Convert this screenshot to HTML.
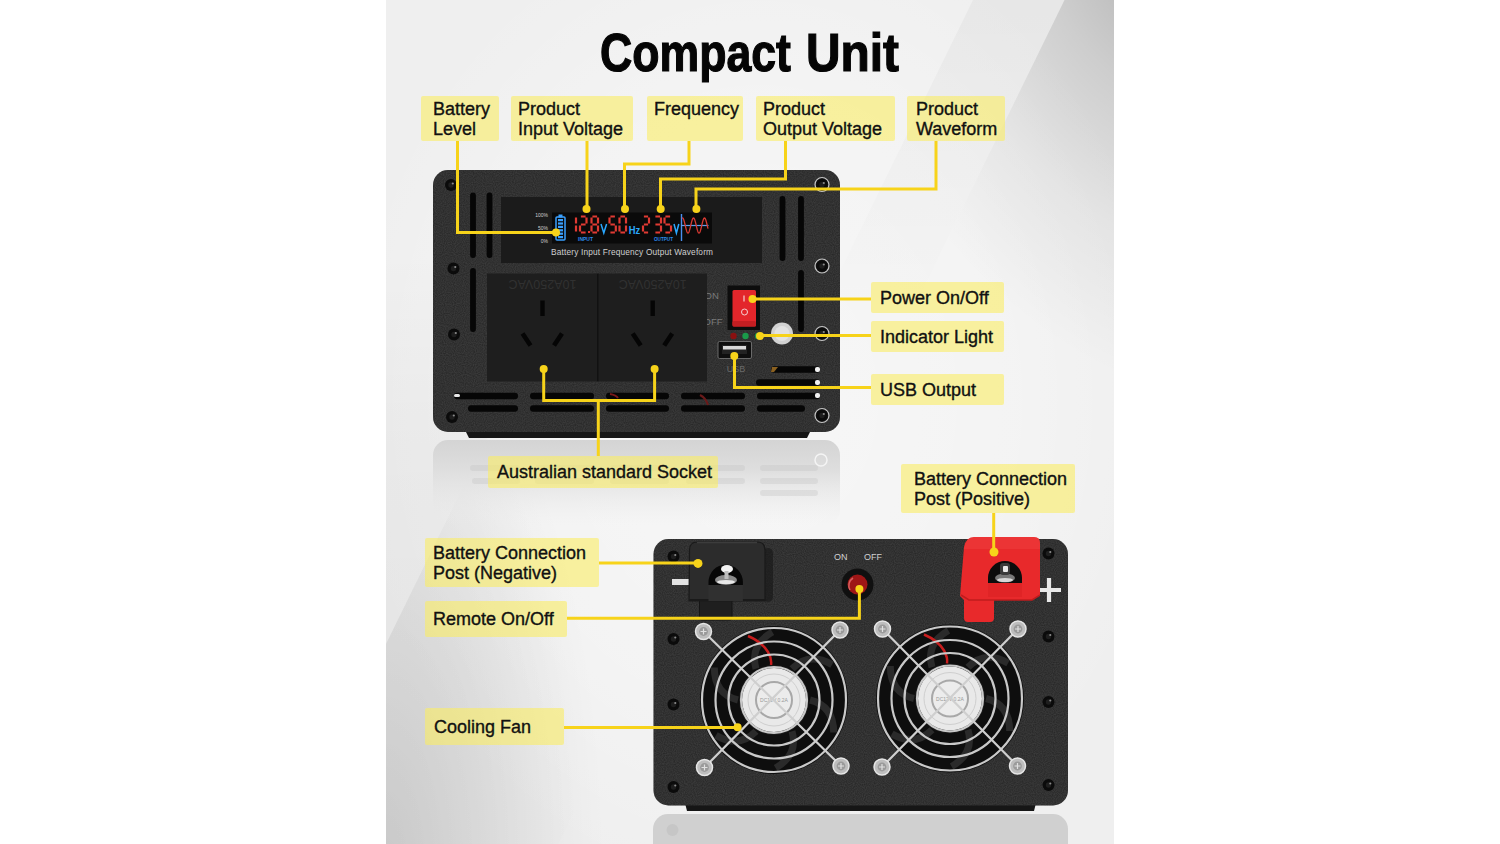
<!DOCTYPE html>
<html><head><meta charset="utf-8">
<style>
html,body{margin:0;padding:0;background:#fff;}
body{width:1500px;height:844px;overflow:hidden;position:relative;font-family:"Liberation Sans",sans-serif;}
svg{position:absolute;left:0;top:0;}
.lbl{position:absolute;background:rgba(250,236,100,0.6);color:#111;font-size:18px;line-height:20px;box-sizing:border-box;border-radius:2px;white-space:nowrap;}
.lbl span{position:absolute;-webkit-text-stroke:0.35px #111;}
</style></head>
<body>
<svg width="1500" height="844" viewBox="0 0 1500 844"><defs>
<radialGradient id="bgTR" gradientUnits="userSpaceOnUse" cx="1150" cy="-30" r="460" gradientTransform="translate(1150 -30) rotate(-26) scale(0.7 1) translate(-1150 30)">
 <stop offset="0" stop-color="#000" stop-opacity="0.24"/>
 <stop offset="0.3" stop-color="#000" stop-opacity="0.14"/>
 <stop offset="0.65" stop-color="#000" stop-opacity="0.05"/>
 <stop offset="1" stop-color="#000" stop-opacity="0"/>
</radialGradient>
<radialGradient id="bgC" gradientUnits="userSpaceOnUse" cx="760" cy="400" r="420" gradientTransform="translate(760 400) scale(1 1.2) translate(-760 -400)">
 <stop offset="0" stop-color="#fff" stop-opacity="0.5"/>
 <stop offset="0.6" stop-color="#fff" stop-opacity="0.3"/>
 <stop offset="1" stop-color="#fff" stop-opacity="0"/>
</radialGradient>
<radialGradient id="bgBL" gradientUnits="userSpaceOnUse" cx="380" cy="860" r="520" gradientTransform="translate(380 860) scale(0.385 1) translate(-380 -860)">
 <stop offset="0" stop-color="#000" stop-opacity="0.07"/>
 <stop offset="0.5" stop-color="#000" stop-opacity="0.04"/>
 <stop offset="1" stop-color="#000" stop-opacity="0"/>
</radialGradient>
<radialGradient id="bgBL2" gradientUnits="userSpaceOnUse" cx="386" cy="870" r="560" gradientTransform="translate(386 870) scale(0.393 1) translate(-386 -870)">
 <stop offset="0" stop-color="#000" stop-opacity="0.10"/>
 <stop offset="0.6" stop-color="#000" stop-opacity="0.04"/>
 <stop offset="1" stop-color="#000" stop-opacity="0"/>
</radialGradient>
<linearGradient id="bandL" gradientUnits="userSpaceOnUse" x1="0" y1="250" x2="0" y2="650">
 <stop offset="0" stop-color="#000" stop-opacity="0"/>
 <stop offset="0.5" stop-color="#000" stop-opacity="0.03"/>
 <stop offset="1" stop-color="#000" stop-opacity="0.04"/>
</linearGradient>
<linearGradient id="bandF" gradientUnits="userSpaceOnUse" x1="0" y1="0" x2="0" y2="320">
 <stop offset="0" stop-color="#000" stop-opacity="0.035"/>
 <stop offset="1" stop-color="#000" stop-opacity="0"/>
</linearGradient>
<linearGradient id="refl1" x1="0" y1="0" x2="0" y2="1">
 <stop offset="0" stop-color="#d4d4d4"/>
 <stop offset="0.35" stop-color="#dedede"/>
 <stop offset="1" stop-color="#ececec" stop-opacity="0"/>
</linearGradient>
<clipPath id="imgclip"><rect x="386" y="0" width="728" height="844"/></clipPath>
<filter id="noise" x="0" y="0" width="100%" height="100%" color-interpolation-filters="sRGB">
 <feTurbulence type="fractalNoise" baseFrequency="0.9" numOctaves="1" seed="3" result="n"/>
 <feColorMatrix in="n" type="matrix" values="0 0 0 0 0.25  0 0 0 0 0.25  0 0 0 0 0.25  0 0 0 0.6 -0.1" result="g"/>
 <feComposite in="g" in2="SourceGraphic" operator="in" result="gi"/>
 <feBlend in="SourceGraphic" in2="gi" mode="screen"/>
</filter>
</defs><g clip-path="url(#imgclip)">
<rect x="386" y="0" width="728" height="844" fill="#efefef"/>
<rect x="386" y="0" width="728" height="844" fill="url(#bgC)"/>
<polygon points="579.1,250.0 1114.0,250.0 1114.0,844.0 288.0,844.0" fill="url(#bgBL2)" fill-opacity="1"/>
<polygon points="579.1,250.0 849.5,250.0 558.4,844.0 288.0,844.0" fill="url(#bgBL)" fill-opacity="1"/>
<polygon points="386.0,250.0 579.1,250.0 288.0,844.0 386.0,844.0" fill="url(#bandL)" fill-opacity="1"/>
<polygon points="1064.5,0.0 1114.0,0.0 1114.0,844.0 650.9,844.0" fill="url(#bgTR)" fill-opacity="1"/>
<polygon points="973.0,0.0 1064.5,0.0 650.9,844.0 559.4,844.0" fill="url(#bandF)" fill-opacity="1"/>
</g>
<rect x="433" y="440" width="407" height="85" rx="15" fill="url(#refl1)"/>
<rect x="470" y="465" width="50" height="6" rx="3" fill="#c2c2c2" fill-opacity="0.35"/>
<rect x="535" y="465" width="59" height="6" rx="3" fill="#c2c2c2" fill-opacity="0.35"/>
<rect x="610" y="465" width="59" height="6" rx="3" fill="#c2c2c2" fill-opacity="0.35"/>
<rect x="686" y="465" width="59" height="6" rx="3" fill="#c2c2c2" fill-opacity="0.35"/>
<rect x="760" y="465" width="58" height="6" rx="3" fill="#c2c2c2" fill-opacity="0.35"/>
<rect x="472" y="478" width="48" height="6" rx="3" fill="#c2c2c2" fill-opacity="0.35"/>
<rect x="535" y="478" width="59" height="6" rx="3" fill="#c2c2c2" fill-opacity="0.35"/>
<rect x="610" y="478" width="59" height="6" rx="3" fill="#c2c2c2" fill-opacity="0.35"/>
<rect x="686" y="478" width="59" height="6" rx="3" fill="#c2c2c2" fill-opacity="0.35"/>
<rect x="760" y="478" width="58" height="6" rx="3" fill="#c2c2c2" fill-opacity="0.35"/>
<rect x="760" y="490" width="58" height="6" rx="3" fill="#c2c2c2" fill-opacity="0.35"/>
<circle cx="821" cy="460" r="6" fill="none" stroke="#f4f4f4" stroke-width="1.5"/>
<path d="M465 430 h346 l-4 8 h-338 z" fill="#161616"/>
<rect x="433" y="170" width="407" height="262" rx="15" fill="#272727" filter="url(#noise)"/>
<rect x="470.1" y="192.5" width="5.8" height="65.5" rx="2.9" fill="#060606"/>
<rect x="486.6" y="192.5" width="5.8" height="65.5" rx="2.9" fill="#060606"/>
<rect x="470.1" y="268" width="5.8" height="64" rx="2.9" fill="#060606"/>
<rect x="779.6" y="196" width="5.8" height="65" rx="2.9" fill="#060606"/>
<rect x="798.1" y="196" width="5.8" height="65" rx="2.9" fill="#060606"/>
<rect x="798.1" y="270" width="5.8" height="62" rx="2.9" fill="#060606"/>
<rect x="454" y="392.8" width="64" height="6.5" rx="3.25" fill="#060606"/>
<rect x="530" y="392.8" width="64" height="6.5" rx="3.25" fill="#060606"/>
<rect x="606" y="392.8" width="63" height="6.5" rx="3.25" fill="#060606"/>
<rect x="681" y="392.8" width="64" height="6.5" rx="3.25" fill="#060606"/>
<rect x="757" y="392.8" width="63" height="6.5" rx="3.25" fill="#060606"/>
<rect x="468" y="405.2" width="50" height="6.5" rx="3.25" fill="#060606"/>
<rect x="530" y="405.2" width="64" height="6.5" rx="3.25" fill="#060606"/>
<rect x="606" y="405.2" width="63" height="6.5" rx="3.25" fill="#060606"/>
<rect x="681" y="405.2" width="64" height="6.5" rx="3.25" fill="#060606"/>
<rect x="757" y="405.2" width="48" height="6.5" rx="3.25" fill="#060606"/>
<rect x="771" y="366.2" width="49" height="6.5" rx="3.25" fill="#060606"/>
<rect x="756" y="379.2" width="64" height="6.5" rx="3.25" fill="#060606"/>
<rect x="815" y="367.0" width="5" height="5" rx="2" fill="#f0f0f0"/>
<rect x="815" y="380.0" width="5" height="5" rx="2" fill="#f0f0f0"/>
<rect x="815" y="393.0" width="5" height="5" rx="2" fill="#f0f0f0"/>
<rect x="454" y="394" width="6" height="3" rx="1.5" fill="#e8e8e8"/>
<path d="M772 367 l6 -0 l-4 5 h-3 z" fill="#8a6020"/>
<path d="M610 394 q6 1 8 4" stroke="#7a1a1a" stroke-width="2" fill="none"/>
<path d="M700 395 q6 3 8 10" stroke="#6a1a1a" stroke-width="2" fill="none"/>
<circle cx="451" cy="185" r="6" fill="#0b0b0b"/>
<circle cx="451" cy="185" r="2.7" fill="#1e1e1e"/>
<circle cx="452.8" cy="183.5" r="1.1" fill="#8a8a8a"/>
<circle cx="453.5" cy="268.5" r="6" fill="#0b0b0b"/>
<circle cx="453.5" cy="268.5" r="2.7" fill="#1e1e1e"/>
<circle cx="455.3" cy="267.0" r="1.1" fill="#8a8a8a"/>
<circle cx="454" cy="334.5" r="6" fill="#0b0b0b"/>
<circle cx="454" cy="334.5" r="2.7" fill="#1e1e1e"/>
<circle cx="455.8" cy="333.0" r="1.1" fill="#8a8a8a"/>
<circle cx="452" cy="417" r="6" fill="#0b0b0b"/>
<circle cx="452" cy="417" r="2.7" fill="#1e1e1e"/>
<circle cx="453.8" cy="415.5" r="1.1" fill="#8a8a8a"/>
<circle cx="822" cy="184.5" r="7" fill="none" stroke="#c4c4c4" stroke-width="1.2"/>
<circle cx="822" cy="184.5" r="6" fill="#0b0b0b"/>
<circle cx="822" cy="184.5" r="2.7" fill="#1e1e1e"/>
<circle cx="823.8" cy="183.0" r="1.1" fill="#8a8a8a"/>
<circle cx="822" cy="266" r="7" fill="none" stroke="#c4c4c4" stroke-width="1.2"/>
<circle cx="822" cy="266" r="6" fill="#0b0b0b"/>
<circle cx="822" cy="266" r="2.7" fill="#1e1e1e"/>
<circle cx="823.8" cy="264.5" r="1.1" fill="#8a8a8a"/>
<circle cx="822" cy="333.5" r="7" fill="none" stroke="#c4c4c4" stroke-width="1.2"/>
<circle cx="822" cy="333.5" r="6" fill="#0b0b0b"/>
<circle cx="822" cy="333.5" r="2.7" fill="#1e1e1e"/>
<circle cx="823.8" cy="332.0" r="1.1" fill="#8a8a8a"/>
<circle cx="822" cy="415.5" r="7" fill="none" stroke="#c4c4c4" stroke-width="1.2"/>
<circle cx="822" cy="415.5" r="6" fill="#0b0b0b"/>
<circle cx="822" cy="415.5" r="2.7" fill="#1e1e1e"/>
<circle cx="823.8" cy="414.0" r="1.1" fill="#8a8a8a"/>
<rect x="501" y="197" width="261" height="66" fill="#1b1b1b"/>
<rect x="552" y="212.5" width="160" height="31" fill="#0a0a0a"/>
<rect x="556" y="217" width="9" height="23" rx="1" fill="none" stroke="#3aa0ff" stroke-width="1.5"/>
<rect x="558.5" y="214.5" width="4" height="3" fill="#3aa0ff"/>
<rect x="558" y="219.0" width="5" height="2.2" fill="#3aa0ff"/>
<rect x="558" y="222.4" width="5" height="2.2" fill="#3aa0ff"/>
<rect x="558" y="225.8" width="5" height="2.2" fill="#3aa0ff"/>
<rect x="558" y="229.2" width="5" height="2.2" fill="#3aa0ff"/>
<rect x="558" y="232.6" width="5" height="2.2" fill="#3aa0ff"/>
<rect x="558" y="236.0" width="5" height="2.2" fill="#3aa0ff"/>
<text x="548" y="217" font-family="Liberation Sans" font-size="5" fill="#cfcfcf" text-anchor="end">100%</text>
<text x="548" y="229.5" font-family="Liberation Sans" font-size="5" fill="#cfcfcf" text-anchor="end">50%</text>
<text x="548" y="243" font-family="Liberation Sans" font-size="5" fill="#cfcfcf" text-anchor="end">0%</text>
<path d="M576.0 217.4L576.0 223.6M576.0 225.4L576.0 231.6" stroke="#e03a33" stroke-width="2.2" fill="none"/>
<path d="M580.9 216.5L585.6 216.5M586.5 217.4L586.5 223.6M580.9 224.5L585.6 224.5M580.0 225.4L580.0 231.6M580.9 232.5L585.6 232.5" stroke="#e03a33" stroke-width="2.2" fill="none"/>
<path d="M592.4 216.5L597.1 216.5M598.0 217.4L598.0 223.6M598.0 225.4L598.0 231.6M592.4 232.5L597.1 232.5M591.5 225.4L591.5 231.6M591.5 217.4L591.5 223.6M592.4 224.5L597.1 224.5" stroke="#e03a33" stroke-width="2.2" fill="none"/>
<path d="M610.4 216.5L614.9 216.5M609.5 217.4L609.5 223.6M610.4 224.5L614.9 224.5M615.8 225.4L615.8 231.6M610.4 232.5L614.9 232.5" stroke="#e03a33" stroke-width="2.2" fill="none"/>
<path d="M620.4 216.5L625.1 216.5M626.0 217.4L626.0 223.6M626.0 225.4L626.0 231.6M620.4 232.5L625.1 232.5M619.5 225.4L619.5 231.6M619.5 217.4L619.5 223.6" stroke="#e03a33" stroke-width="2.2" fill="none"/>
<path d="M643.9 216.5L648.1 216.5M649.0 217.4L649.0 223.6M643.9 224.5L648.1 224.5M643.0 225.4L643.0 231.6M643.9 232.5L648.1 232.5" stroke="#e03a33" stroke-width="2.2" fill="none"/>
<path d="M655.4 216.5L660.1 216.5M661.0 217.4L661.0 223.6M655.4 224.5L660.1 224.5M661.0 225.4L661.0 231.6M655.4 232.5L660.1 232.5" stroke="#e03a33" stroke-width="2.2" fill="none"/>
<path d="M665.4 216.5L670.1 216.5M664.5 217.4L664.5 223.6M665.4 224.5L670.1 224.5M671.0 225.4L671.0 231.6M665.4 232.5L670.1 232.5" stroke="#e03a33" stroke-width="2.2" fill="none"/>
<rect x="588" y="231" width="2" height="2" fill="#e03a33"/>
<path d="M601 224 l2.8 9 l2.8 -9" stroke="#2aa8ff" stroke-width="1.5" fill="none"/>
<path d="M674 224 l2.4 9 l2.4 -9" stroke="#2aa8ff" stroke-width="1.5" fill="none"/>
<text x="628.7" y="233.8" font-family="Liberation Sans" font-size="10" font-weight="bold" fill="#2aa8ff" textLength="11.5" lengthAdjust="spacingAndGlyphs">Hz</text>
<text x="578" y="241" font-family="Liberation Sans" font-size="6" font-weight="bold" fill="#2a8cf0" textLength="15" lengthAdjust="spacingAndGlyphs">INPUT</text>
<text x="654" y="241" font-family="Liberation Sans" font-size="6" font-weight="bold" fill="#2a8cf0" textLength="19" lengthAdjust="spacingAndGlyphs">OUTPUT</text>
<path d="M681.5 214 v27" stroke="#4a90f0" stroke-width="1.4"/>
<path d="M681 225.5 h27.5" stroke="#5aa0f0" stroke-width="1.2"/>
<polyline points="682.00,218.30 682.25,218.08 682.50,218.00 682.75,218.08 683.00,218.30 683.25,218.68 683.50,219.19 683.75,219.83 684.00,220.59 684.25,221.45 684.50,222.38 684.75,223.39 685.00,224.43 685.25,225.50 685.50,226.57 685.75,227.61 686.00,228.62 686.25,229.55 686.50,230.41 686.75,231.17 687.00,231.81 687.25,232.32 687.50,232.70 687.75,232.92 688.00,233.00 688.25,232.92 688.50,232.70 688.75,232.32 689.00,231.81 689.25,231.17 689.50,230.41 689.75,229.55 690.00,228.62 690.25,227.61 690.50,226.57 690.75,225.50 691.00,224.43 691.25,223.39 691.50,222.38 691.75,221.45 692.00,220.59 692.25,219.83 692.50,219.19 692.75,218.68 693.00,218.30 693.25,218.08 693.50,218.00 693.75,218.08 694.00,218.30 694.25,218.68 694.50,219.19 694.75,219.83 695.00,220.59 695.25,221.45 695.50,222.38 695.75,223.39 696.00,224.43 696.25,225.50 696.50,226.57 696.75,227.61 697.00,228.62 697.25,229.55 697.50,230.41 697.75,231.17 698.00,231.81 698.25,232.32 698.50,232.70 698.75,232.92 699.00,233.00 699.25,232.92 699.50,232.70 699.75,232.32 700.00,231.81 700.25,231.17 700.50,230.41 700.75,229.55 701.00,228.62 701.25,227.61 701.50,226.57 701.75,225.50 702.00,224.43 702.25,223.39 702.50,222.38 702.75,221.45 703.00,220.59 703.25,219.83 703.50,219.19 703.75,218.68 704.00,218.30 704.25,218.08 704.50,218.00 704.75,218.08 705.00,218.30 705.25,218.68 705.50,219.19 705.75,219.83 706.00,220.59 706.25,221.45 706.50,222.38 706.75,223.39 707.00,224.43 707.25,225.50 707.50,226.57 707.75,227.61 708.00,228.62" stroke="#d83a33" stroke-width="1.3" fill="none"/>
<text x="551" y="254.5" font-family="Liberation Sans" font-size="8.3" fill="#d0d0d0" textLength="162" lengthAdjust="spacing">Battery  Input  Frequency  Output  Waveform</text>
<text x="704.5" y="299" font-family="Liberation Sans" font-size="9.5" fill="#7a7a7a">ON</text>
<text x="703.5" y="325" font-family="Liberation Sans" font-size="9.5" fill="#7a7a7a">OFF</text>
<rect x="487" y="273.5" width="110" height="108" fill="#1e1e1e"/>
<rect x="598" y="273.5" width="109" height="108" fill="#1e1e1e"/>
<rect x="597" y="273.5" width="1.5" height="108" fill="#111"/>
<text x="542.5" y="287.5" font-family="Liberation Sans" font-size="12" fill="#313131" text-anchor="middle" textLength="68" lengthAdjust="spacingAndGlyphs" transform="rotate(180 542.5 283.5)">10A250VAC</text>
<rect x="540.3" y="300.5" width="4.4" height="15.5" fill="#050505"/>
<path d="M522.5 333.5 L530.5 345.5 M562.0 333.5 L554.0 345.5" stroke="#050505" stroke-width="4.6"/>
<text x="652.7" y="287.5" font-family="Liberation Sans" font-size="12" fill="#313131" text-anchor="middle" textLength="68" lengthAdjust="spacingAndGlyphs" transform="rotate(180 652.7 283.5)">10A250VAC</text>
<rect x="650.5" y="300.5" width="4.4" height="15.5" fill="#050505"/>
<path d="M632.7 333.5 L640.7 345.5 M672.2 333.5 L664.2 345.5" stroke="#050505" stroke-width="4.6"/>
<rect x="727.5" y="285.5" width="32.5" height="44.5" fill="#0d0d0d"/>
<rect x="732.5" y="290" width="23.5" height="36.5" rx="1.5" fill="#e3262b"/>
<rect x="732.5" y="321" width="23.5" height="5.5" rx="1.5" fill="#c41e22"/>
<path d="M744 295.5 v6" stroke="#f6d0d0" stroke-width="1.2"/>
<circle cx="744.5" cy="312" r="3" fill="none" stroke="#f6d0d0" stroke-width="1"/>
<circle cx="733.5" cy="336" r="3.2" fill="#8a1010"/>
<circle cx="745.5" cy="336" r="3.2" fill="#1a9a4a"/>
<circle cx="758" cy="336" r="3.2" fill="#1a9a4a"/>
<circle cx="782" cy="333.5" r="11" fill="#d2d2d2"/>
<circle cx="782" cy="333.5" r="7.5" fill="#e2e2e2"/>
<rect x="718" y="341.5" width="33.5" height="17" rx="1.5" fill="#0e0e0e" stroke="#6a6a6a" stroke-width="1"/>
<rect x="722" y="345" width="25" height="9" fill="#222"/>
<rect x="723" y="346" width="23" height="3.5" fill="#d8d8d8"/>
<text x="736" y="372" font-family="Liberation Sans" font-size="9" fill="#6a6a6a" text-anchor="middle">USB</text>
<path d="M668 814 h385 a15 15 0 0 1 15 15 v20 h-415 v-20 a15 15 0 0 1 15 -15 z" fill="#d0d0d0"/>
<circle cx="672.5" cy="830" r="6" fill="#c6c6c6"/>
<path d="M685 803 h351 l-2 8 h-347 z" fill="#161616"/>
<rect x="653.5" y="539" width="414.5" height="266.5" rx="15" fill="#272727" filter="url(#noise)"/>
<circle cx="673.5" cy="556.5" r="6" fill="#0b0b0b"/>
<circle cx="673.5" cy="556.5" r="2.7" fill="#1e1e1e"/>
<circle cx="675.3" cy="555.0" r="1.1" fill="#8a8a8a"/>
<circle cx="673.5" cy="639" r="6" fill="#0b0b0b"/>
<circle cx="673.5" cy="639" r="2.7" fill="#1e1e1e"/>
<circle cx="675.3" cy="637.5" r="1.1" fill="#8a8a8a"/>
<circle cx="673.5" cy="704.5" r="6" fill="#0b0b0b"/>
<circle cx="673.5" cy="704.5" r="2.7" fill="#1e1e1e"/>
<circle cx="675.3" cy="703.0" r="1.1" fill="#8a8a8a"/>
<circle cx="673.5" cy="787" r="6" fill="#0b0b0b"/>
<circle cx="673.5" cy="787" r="2.7" fill="#1e1e1e"/>
<circle cx="675.3" cy="785.5" r="1.1" fill="#8a8a8a"/>
<circle cx="1048.5" cy="553.5" r="6" fill="#0b0b0b"/>
<circle cx="1048.5" cy="553.5" r="2.7" fill="#1e1e1e"/>
<circle cx="1050.3" cy="552.0" r="1.1" fill="#8a8a8a"/>
<circle cx="1048.5" cy="636.5" r="6" fill="#0b0b0b"/>
<circle cx="1048.5" cy="636.5" r="2.7" fill="#1e1e1e"/>
<circle cx="1050.3" cy="635.0" r="1.1" fill="#8a8a8a"/>
<circle cx="1048.5" cy="702" r="6" fill="#0b0b0b"/>
<circle cx="1048.5" cy="702" r="2.7" fill="#1e1e1e"/>
<circle cx="1050.3" cy="700.5" r="1.1" fill="#8a8a8a"/>
<circle cx="1048.5" cy="785" r="6" fill="#0b0b0b"/>
<circle cx="1048.5" cy="785" r="2.7" fill="#1e1e1e"/>
<circle cx="1050.3" cy="783.5" r="1.1" fill="#8a8a8a"/>
<rect x="672" y="579" width="17" height="6" fill="#e2e2e2"/>
<path d="M1049 578 v24 M1037 590 h24" stroke="#e8e8e8" stroke-width="4.2"/>
<rect x="763" y="548" width="10" height="54" rx="5" fill="#161616" fill-opacity="0.6"/>
<rect x="699.5" y="598" width="32.5" height="22" rx="2" fill="#1f1f1f" stroke="#151515" stroke-width="1"/>
<path d="M689.5 550 q0 -8 8 -8 h59.5 q8 0 8 8 v51 h-76 z" fill="#2c2c2c" stroke="#1a1a1a" stroke-width="1.2"/>
<path d="M697 542.5 h60" stroke="#3c3c3c" stroke-width="1.5"/>
<path d="M689.5 600 h76" stroke="#1a1a1a" stroke-width="2"/>
<path d="M708.5 585 v-3 a17.2 17.2 0 0 1 34.4 0 v3 z" fill="#070707"/>
<ellipse cx="726" cy="580" rx="11" ry="5" fill="#8a8a8a"/>
<ellipse cx="726" cy="582" rx="9" ry="2" fill="#e8e8e8"/>
<ellipse cx="727" cy="569" rx="6" ry="4" fill="#f2f2f2"/>
<rect x="724.5" y="571" width="4" height="8" fill="#bdbdbd"/>
<rect x="708.5" y="585" width="34.4" height="16" fill="#303030"/>
<text x="834" y="560" font-family="Liberation Sans" font-size="9" fill="#d0d0d0">ON</text>
<text x="864" y="560" font-family="Liberation Sans" font-size="9" fill="#d0d0d0">OFF</text>
<circle cx="857.5" cy="584.5" r="16" fill="#101010"/>
<circle cx="857.5" cy="584.5" r="10" fill="#9e1616"/>
<path d="M850 590 a9 9 0 0 1 3 -12" stroke="#d86060" stroke-width="1.5" fill="none"/>
<path d="M964 547 q2 -10 10 -10 h60 q6 0 6 6 v52 l-8 5 h-38 v18 q0 4 -4 4 h-22 q-4 0 -4 -4 v-18 l-4 -4 z" fill="#e8292b"/>
<path d="M961 595 l8 5 h63 l8 -5" stroke="#c01c1e" stroke-width="1.5" fill="none"/>
<path d="M964 549 q2 -12 10 -12 h60 q6 0 6 6 v6 h-76 z" fill="#f04040" fill-opacity="0.5"/>
<path d="M988 583 v-5 a17 17 0 0 1 34 0 v5 z" fill="#0c0c0c"/>
<ellipse cx="1005" cy="578" rx="10" ry="4.5" fill="#777"/>
<ellipse cx="1005" cy="580" rx="8" ry="2" fill="#d8d8d8"/>
<rect x="1000" y="563" width="10" height="12" rx="3" fill="#3a3a3a"/>
<rect x="1003" y="566" width="5" height="6" rx="1" fill="#e8e8e8"/>
<rect x="988" y="583" width="34" height="14" fill="#e02426"/>
<circle cx="774" cy="700" r="74" fill="#0e0e0e"/>
<path d="M810.0 700.0 Q833.7 706.0 833.7 732.6" stroke="#2a2a2a" stroke-width="7" fill="none"/>
<path d="M792.0 731.2 Q798.7 754.7 775.6 768.0" stroke="#2a2a2a" stroke-width="7" fill="none"/>
<path d="M756.0 731.2 Q739.0 748.7 715.9 735.4" stroke="#2a2a2a" stroke-width="7" fill="none"/>
<path d="M738.0 700.0 Q714.3 694.0 714.3 667.4" stroke="#2a2a2a" stroke-width="7" fill="none"/>
<path d="M756.0 668.8 Q749.3 645.3 772.4 632.0" stroke="#2a2a2a" stroke-width="7" fill="none"/>
<path d="M792.0 668.8 Q809.0 651.3 832.1 664.6" stroke="#2a2a2a" stroke-width="7" fill="none"/>
<path d="M748 636 q14 6 20 16 q4 7 3 13" stroke="#c81e1e" stroke-width="2.5" fill="none"/>
<circle cx="774" cy="700" r="35" fill="#1a1a1a"/>
<circle cx="774" cy="700" r="32" fill="#e9e9e9"/>
<circle cx="774" cy="700" r="26" fill="none" stroke="#cfcfcf" stroke-width="1"/>
<circle cx="774" cy="700" r="18" fill="#ececec" stroke="#a8a8a8" stroke-width="2"/>
<text x="774" y="702" font-family="Liberation Sans" font-size="5" fill="#999" text-anchor="middle">DC12V 0.2A</text>
<circle cx="774" cy="700" r="72" fill="none" stroke="#c9c9c9" stroke-width="2.2"/>
<circle cx="774" cy="700" r="58.5" fill="none" stroke="#c9c9c9" stroke-width="2.2"/>
<circle cx="774" cy="700" r="45.5" fill="none" stroke="#c9c9c9" stroke-width="2.2"/>
<circle cx="774" cy="700" r="33" fill="none" stroke="#c9c9c9" stroke-width="2.2"/>
<path d="M703.5 631.5 L841 766 M840 630 L704.5 767.5" stroke="#cfcfcf" stroke-width="2.2"/>
<circle cx="703.5" cy="631.5" r="8" fill="#bdbdbd" stroke="#e6e6e6" stroke-width="1.5"/>
<circle cx="703.5" cy="631.5" r="4.4" fill="#9a9a9a"/>
<path d="M700.5 631.5 h6 M703.5 628.5 v6" stroke="#e0e0e0" stroke-width="1.2"/>
<circle cx="840" cy="630" r="8" fill="#bdbdbd" stroke="#e6e6e6" stroke-width="1.5"/>
<circle cx="840" cy="630" r="4.4" fill="#9a9a9a"/>
<path d="M837 630 h6 M840 627 v6" stroke="#e0e0e0" stroke-width="1.2"/>
<circle cx="704.5" cy="767.5" r="8" fill="#bdbdbd" stroke="#e6e6e6" stroke-width="1.5"/>
<circle cx="704.5" cy="767.5" r="4.4" fill="#9a9a9a"/>
<path d="M701.5 767.5 h6 M704.5 764.5 v6" stroke="#e0e0e0" stroke-width="1.2"/>
<circle cx="841" cy="766" r="8" fill="#bdbdbd" stroke="#e6e6e6" stroke-width="1.5"/>
<circle cx="841" cy="766" r="4.4" fill="#9a9a9a"/>
<path d="M838 766 h6 M841 763 v6" stroke="#e0e0e0" stroke-width="1.2"/>
<circle cx="950" cy="698.5" r="74" fill="#0e0e0e"/>
<path d="M986.0 698.5 Q1009.7 704.5 1009.7 731.1" stroke="#2a2a2a" stroke-width="7" fill="none"/>
<path d="M968.0 729.7 Q974.7 753.2 951.6 766.5" stroke="#2a2a2a" stroke-width="7" fill="none"/>
<path d="M932.0 729.7 Q915.0 747.2 891.9 733.9" stroke="#2a2a2a" stroke-width="7" fill="none"/>
<path d="M914.0 698.5 Q890.3 692.5 890.3 665.9" stroke="#2a2a2a" stroke-width="7" fill="none"/>
<path d="M932.0 667.3 Q925.3 643.8 948.4 630.5" stroke="#2a2a2a" stroke-width="7" fill="none"/>
<path d="M968.0 667.3 Q985.0 649.8 1008.1 663.1" stroke="#2a2a2a" stroke-width="7" fill="none"/>
<path d="M924 634.5 q14 6 20 16 q4 7 3 13" stroke="#c81e1e" stroke-width="2.5" fill="none"/>
<circle cx="950" cy="698.5" r="35" fill="#1a1a1a"/>
<circle cx="950" cy="698.5" r="32" fill="#e9e9e9"/>
<circle cx="950" cy="698.5" r="26" fill="none" stroke="#cfcfcf" stroke-width="1"/>
<circle cx="950" cy="698.5" r="18" fill="#ececec" stroke="#a8a8a8" stroke-width="2"/>
<text x="950" y="700.5" font-family="Liberation Sans" font-size="5" fill="#999" text-anchor="middle">DC12V 0.2A</text>
<circle cx="950" cy="698.5" r="72" fill="none" stroke="#c9c9c9" stroke-width="2.2"/>
<circle cx="950" cy="698.5" r="58.5" fill="none" stroke="#c9c9c9" stroke-width="2.2"/>
<circle cx="950" cy="698.5" r="45.5" fill="none" stroke="#c9c9c9" stroke-width="2.2"/>
<circle cx="950" cy="698.5" r="33" fill="none" stroke="#c9c9c9" stroke-width="2.2"/>
<path d="M882.5 629 L1017.5 766 M1018 629 L882 767" stroke="#cfcfcf" stroke-width="2.2"/>
<circle cx="882.5" cy="629" r="8" fill="#bdbdbd" stroke="#e6e6e6" stroke-width="1.5"/>
<circle cx="882.5" cy="629" r="4.4" fill="#9a9a9a"/>
<path d="M879.5 629 h6 M882.5 626 v6" stroke="#e0e0e0" stroke-width="1.2"/>
<circle cx="1018" cy="629" r="8" fill="#bdbdbd" stroke="#e6e6e6" stroke-width="1.5"/>
<circle cx="1018" cy="629" r="4.4" fill="#9a9a9a"/>
<path d="M1015 629 h6 M1018 626 v6" stroke="#e0e0e0" stroke-width="1.2"/>
<circle cx="882" cy="767" r="8" fill="#bdbdbd" stroke="#e6e6e6" stroke-width="1.5"/>
<circle cx="882" cy="767" r="4.4" fill="#9a9a9a"/>
<path d="M879 767 h6 M882 764 v6" stroke="#e0e0e0" stroke-width="1.2"/>
<circle cx="1017.5" cy="766" r="8" fill="#bdbdbd" stroke="#e6e6e6" stroke-width="1.5"/>
<circle cx="1017.5" cy="766" r="4.4" fill="#9a9a9a"/>
<path d="M1014.5 766 h6 M1017.5 763 v6" stroke="#e0e0e0" stroke-width="1.2"/>
<g stroke="#f7d31a" stroke-width="3" fill="none">
<polyline points="457.5,141 457.5,232.5 556,232.5"/>
<polyline points="587,141 587,209"/>
<polyline points="689,141 689,164 624.5,164 624.5,209"/>
<polyline points="785.5,141 785.5,179 660.5,179 660.5,209"/>
<polyline points="936,141 936,189 696,189 696,209"/>
<polyline points="752.5,299 871,299"/>
<polyline points="760,335.5 871,335.5"/>
<polyline points="734.5,356 734.5,387.5 871,387.5"/>
<polyline points="543.7,369 543.7,400.5 654.6,400.5 654.6,369"/>
<polyline points="598.3,400.5 598.3,456"/>
<polyline points="599,563 698,563"/>
<polyline points="567,618.3 859.4,618.3 859.4,589"/>
<polyline points="993.7,513 993.7,552"/>
<polyline points="564,727.4 737.6,727.4"/>
</g><g fill="#f7d31a">
<circle cx="556" cy="232.5" r="4"/>
<circle cx="586.5" cy="209" r="4"/>
<circle cx="625" cy="209" r="4"/>
<circle cx="660.7" cy="209" r="4"/>
<circle cx="696.4" cy="209" r="4"/>
<circle cx="752.5" cy="299" r="4"/>
<circle cx="760" cy="336" r="4"/>
<circle cx="734.3" cy="356" r="4"/>
<circle cx="543.7" cy="369" r="4"/>
<circle cx="654.6" cy="369" r="4"/>
<circle cx="698" cy="563.4" r="4.5"/>
<circle cx="859.4" cy="589" r="4"/>
<circle cx="994" cy="552" r="4.5"/>
<circle cx="737.6" cy="727.3" r="4"/>
</g>
<text x="600" y="71" font-family="Liberation Sans" font-weight="bold" font-size="53" fill="#050505" stroke="#050505" stroke-width="1.2" textLength="191" lengthAdjust="spacingAndGlyphs">Compact</text>
<text x="806" y="71" font-family="Liberation Sans" font-weight="bold" font-size="53" fill="#050505" stroke="#050505" stroke-width="1.2" textLength="93" lengthAdjust="spacingAndGlyphs">Unit</text></svg>
<div class="lbl" style="left:421px;top:96px;width:78px;height:45px;"><span style="left:12px;top:3px;">Battery<br>Level</span></div>
<div class="lbl" style="left:511px;top:96px;width:122px;height:45px;"><span style="left:7px;top:3px;">Product<br>Input Voltage</span></div>
<div class="lbl" style="left:647px;top:96px;width:96px;height:45px;"><span style="left:7px;top:3px;">Frequency</span></div>
<div class="lbl" style="left:756px;top:96px;width:139px;height:45px;"><span style="left:7px;top:3px;">Product<br>Output Voltage</span></div>
<div class="lbl" style="left:907px;top:96px;width:98px;height:45px;"><span style="left:9px;top:3px;">Product<br>Waveform</span></div>
<div class="lbl" style="left:871px;top:282px;width:133px;height:31px;"><span style="left:9px;top:6px;">Power On/Off</span></div>
<div class="lbl" style="left:871px;top:321px;width:133px;height:31px;"><span style="left:9px;top:6px;">Indicator Light</span></div>
<div class="lbl" style="left:871px;top:374px;width:133px;height:31px;"><span style="left:9px;top:6px;">USB Output</span></div>
<div class="lbl" style="left:488px;top:456px;width:230px;height:32px;"><span style="left:9px;top:6px;">Australian standard Socket</span></div>
<div class="lbl" style="left:901px;top:464px;width:174px;height:49px;"><span style="left:13px;top:5px;">Battery Connection<br>Post (Positive)</span></div>
<div class="lbl" style="left:425px;top:538px;width:174px;height:49px;"><span style="left:8px;top:5px;">Battery Connection<br>Post (Negative)</span></div>
<div class="lbl" style="left:425px;top:601px;width:142px;height:36px;"><span style="left:8px;top:8px;">Remote On/Off</span></div>
<div class="lbl" style="left:425px;top:708px;width:139px;height:37px;"><span style="left:9px;top:9px;">Cooling Fan</span></div>
</body></html>
